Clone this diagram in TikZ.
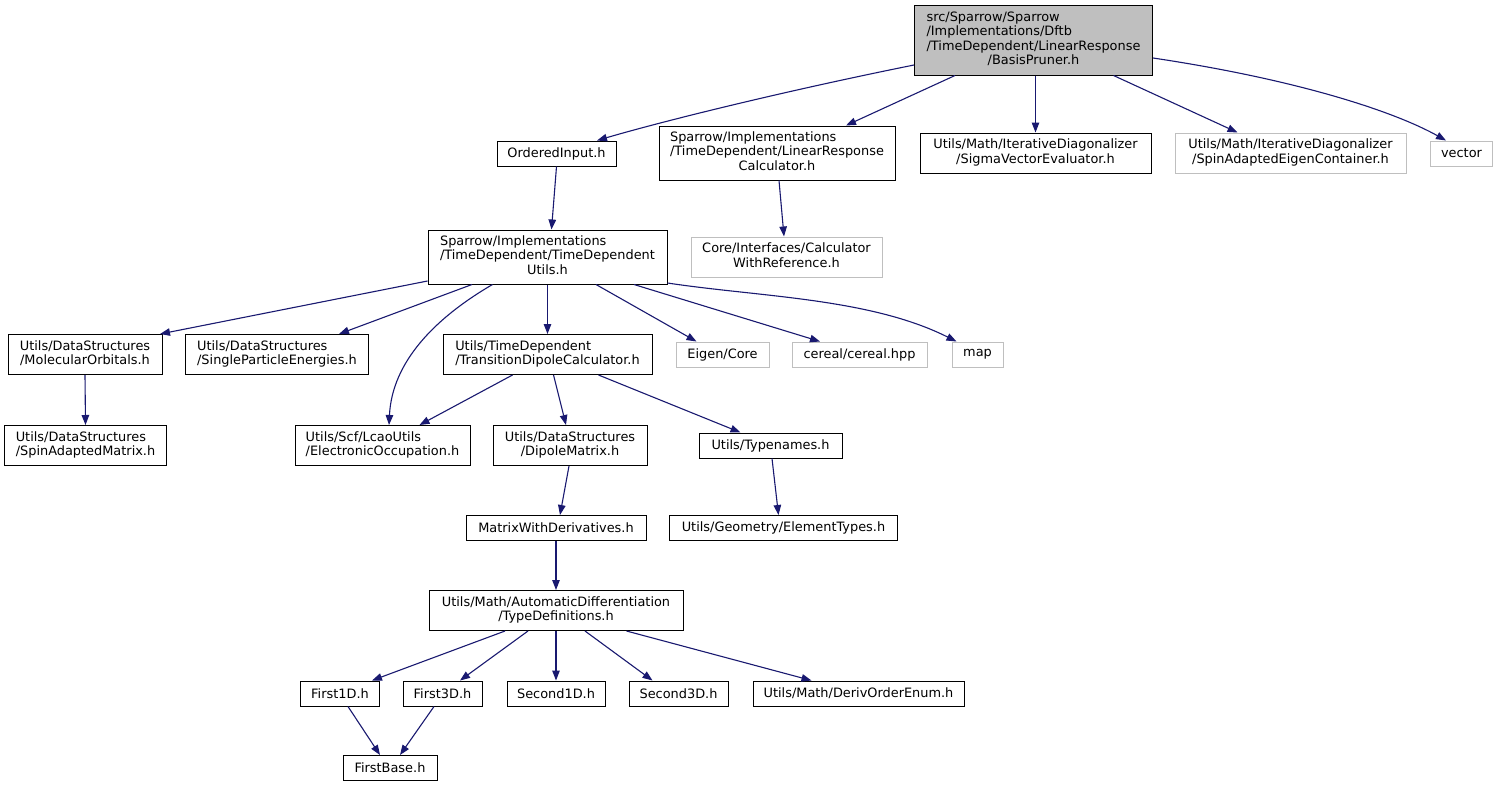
\documentclass[tikz,border=0pt]{standalone}
\usepackage{fontspec}
\setmainfont{DejaVu Sans}
\usetikzlibrary{arrows.meta,calc}
\definecolor{edgec}{RGB}{25,25,112}
\definecolor{grayc}{RGB}{191,191,191}
\newcommand{\lbl}[2]{\begin{tabular}{@{}l@{}}#1\\\multicolumn{1}{@{}c@{}}{#2}\end{tabular}}
\begin{document}
\begin{tikzpicture}[x=1pt,y=-1pt,
  box/.style={draw=black, line width=1pt, rectangle, inner sep=0pt, font=\fontsize{12.9}{14.4}\selectfont, text=black},
  ext/.style={box, draw=grayc},
  edge/.style={draw=edgec, line width=1.1pt, -{Triangle[length=10pt,width=7.5pt]}}
]
\useasboundingbox[fill=white] (0,0) rectangle (1495,787);

% row 0
\node[box, fill=grayc, minimum width=238pt, minimum height=70pt] (top) at (1033.5,40)
  {\lbl{src/Sparrow/Sparrow\\/Implementations/Dftb\\/TimeDependent/LinearResponse}{/BasisPruner.h}};
% row 1
\node[box, minimum width=119pt, minimum height=25pt] (oi) at (556.5,153.5) {OrderedInput.h};
\node[box, minimum width=236pt, minimum height=54pt] (lrc) at (777,153)
  {\lbl{Sparrow/Implementations\\/TimeDependent/LinearResponse}{Calculator.h}};
\node[box, minimum width=231pt, minimum height=40pt] (sve) at (1035.5,153)
  {\lbl{Utils/Math/IterativeDiagonalizer}{/SigmaVectorEvaluator.h}};
\node[ext, minimum width=231pt, minimum height=40pt] (saec) at (1290.5,153)
  {\lbl{Utils/Math/IterativeDiagonalizer}{/SpinAdaptedEigenContainer.h}};
\node[ext, minimum width=62pt, minimum height=25pt] (vec) at (1461.5,153.5) {vector};
% row 2
\node[box, minimum width=239pt, minimum height=54pt] (tdu) at (547.5,257)
  {\lbl{Sparrow/Implementations\\/TimeDependent/TimeDependent}{Utils.h}};
\node[ext, minimum width=191pt, minimum height=40pt] (core) at (786.5,257)
  {\lbl{Core/Interfaces/Calculator}{WithReference.h}};
% row 3
\node[box, minimum width=154pt, minimum height=40pt] (mo) at (85,354.5)
  {\lbl{Utils/DataStructures}{/MolecularOrbitals.h}};
\node[box, minimum width=183pt, minimum height=40pt] (spe) at (277,354.5)
  {\lbl{Utils/DataStructures}{/SingleParticleEnergies.h}};
\node[box, minimum width=209pt, minimum height=40pt] (tdc) at (547.5,354.5)
  {\lbl{Utils/TimeDependent}{/TransitionDipoleCalculator.h}};
\node[ext, minimum width=93pt, minimum height=25pt] (eig) at (722.5,354.5) {Eigen/Core};
\node[ext, minimum width=135pt, minimum height=25pt] (cer) at (859.5,354.5) {cereal/cereal.hpp};
\node[ext, minimum width=51pt, minimum height=25pt] (map) at (977.5,354.5) {map};
% row 4
\node[box, minimum width=162pt, minimum height=40pt] (sam) at (85.5,445.5)
  {\lbl{Utils/DataStructures}{/SpinAdaptedMatrix.h}};
\node[box, minimum width=175pt, minimum height=40pt] (eo) at (382.5,445.5)
  {\lbl{Utils/Scf/LcaoUtils}{/ElectronicOccupation.h}};
\node[box, minimum width=154pt, minimum height=40pt] (dm) at (570,445.5)
  {\lbl{Utils/DataStructures}{/DipoleMatrix.h}};
\node[box, minimum width=143pt, minimum height=25pt] (tn) at (770.5,445.5) {Utils/Typenames.h};
% row 5
\node[box, minimum width=180pt, minimum height=25pt] (mwd) at (556,528) {MatrixWithDerivatives.h};
\node[box, minimum width=228pt, minimum height=25pt] (et) at (783.5,528) {Utils/Geometry/ElementTypes.h};
% row 6
\node[box, minimum width=254pt, minimum height=40pt] (td) at (556,610.5)
  {\lbl{Utils/Math/AutomaticDifferentiation}{/TypeDefinitions.h}};
% row 7
\node[box, minimum width=79pt, minimum height=25pt] (f1) at (340,693.5) {First1D.h};
\node[box, minimum width=79pt, minimum height=25pt] (f3) at (442.5,693.5) {First3D.h};
\node[box, minimum width=98pt, minimum height=25pt] (s1) at (556,693.5) {Second1D.h};
\node[box, minimum width=99pt, minimum height=25pt] (s3) at (678.5,693.5) {Second3D.h};
\node[box, minimum width=211pt, minimum height=25pt] (doe) at (858.5,693.5) {Utils/Math/DerivOrderEnum.h};
% row 8
\node[box, minimum width=94pt, minimum height=25pt] (fb) at (390,768) {FirstBase.h};

% edges
\draw[edge] ($(top.west)+(0,25)$) .. controls (780,92) and (660,122) .. ($(oi.north)+(40.5,0)$);
\draw[edge] ($(top.south)+(-78.5,0)$) -- ($(lrc.north)+(69,0)$);
\draw[edge] (top.south -| sve.north) -- (sve.north);
\draw[edge] ($(top.south)+(80,0)$) -- ($(saec.north)+(-53,0)$);
\draw[edge] ($(top.east)+(0,18)$) .. controls (1300,80) and (1395,112) .. ($(vec.north)+(-15.5,0)$);
\draw[edge] (oi.south) -- ($(tdu.north)+(4,0)$);
\draw[edge] ($(lrc.south)+(2,0)$) -- ($(core.north)+(-2.5,0)$);
\draw[edge] ($(tdu.west)+(0,24)$) -- ($(mo.north)+(75,0)$);
\draw[edge] ($(tdu.south)+(-75.5,0)$) -- ($(spe.north)+(62,0)$);
\draw[edge] ($(tdu.south)+(-55,0)$) .. controls (435,318) and (392,362) .. ($(eo.north)+(6.5,0)$);
\draw[edge] (tdu.south) -- (tdc.north);
\draw[edge] ($(tdu.south)+(48.5,0)$) -- ($(eig.north)+(-26,0)$);
\draw[edge] ($(tdu.south)+(86.5,0)$) -- ($(cer.north)+(-39.5,0)$);
\draw[edge] ($(tdu.east)+(0,26)$) .. controls (760,297) and (870,298) .. ($(map.north)+(-21,0)$);
\draw[edge] (mo.south) -- (sam.north);
\draw[edge] ($(tdc.south)+(-35,0)$) -- ($(eo.north)+(37,0)$);
\draw[edge] ($(tdc.south)+(6,0)$) -- ($(dm.north)+(-4,0)$);
\draw[edge] ($(tdc.south)+(51,0)$) -- ($(tn.north)+(-30,0)$);
\draw[edge] ($(dm.south)+(-1,0)$) -- ($(mwd.north)+(4,0)$);
\draw[edge] ($(tn.south)+(1.5,0)$) -- ($(et.north)+(-5,0)$);
\draw[edge] (mwd.south) -- (td.north);
\draw[edge] ($(td.south)+(-51,0)$) -- ($(f1.north)+(32,0)$);
\draw[edge] ($(td.south)+(-28,0)$) -- ($(f3.north)+(17.5,0)$);
\draw[edge] (td.south) -- (s1.north);
\draw[edge] ($(td.south)+(29,0)$) -- ($(s3.north)+(-26,0)$);
\draw[edge] ($(td.south)+(70.5,0)$) -- ($(doe.north)+(-47,0)$);
\draw[edge] ($(f1.south)+(8,0)$) -- ($(fb.north)+(-10,0)$);
\draw[edge] ($(f3.south)+(-8.5,0)$) -- ($(fb.north)+(10,0)$);
\end{tikzpicture}
\end{document}
